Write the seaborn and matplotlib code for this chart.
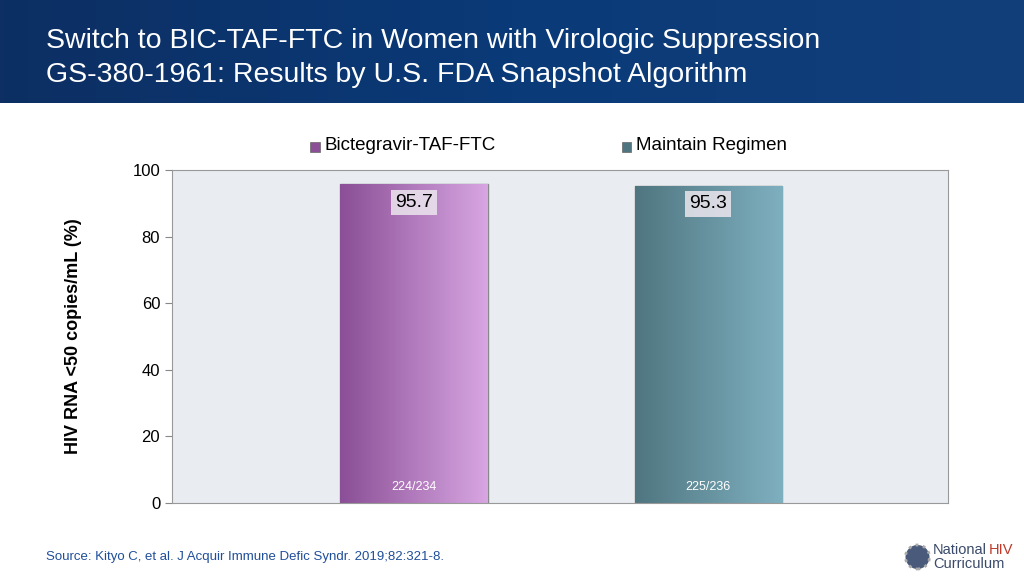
import numpy as np
import pandas as pd
import matplotlib
matplotlib.use("Agg")
import matplotlib.pyplot as plt
import seaborn as sns
from matplotlib.colors import LinearSegmentedColormap
from matplotlib.patches import Ellipse

# --- Data ---
groups = ["Bictegravir-TAF-FTC", "Maintain Regimen"]
values = [95.7, 95.3]
counts = ["224/234", "225/236"]
yticks = [0, 20, 40, 60, 80, 100]

colors_dark = ["#8a4f96", "#4f7680"]
colors_light = ["#d8a6e2", "#7fb0c0"]

fig = plt.figure(figsize=(10.24, 5.76), dpi=100)
fig.patch.set_facecolor("white")

# header band
hdr = fig.add_axes([0, 1 - 103 / 576, 1, 103 / 576])
grad = np.linspace(0, 1, 256).reshape(1, -1)
hdr.imshow(grad, aspect="auto", extent=[0, 1, 0, 1],
           cmap=LinearSegmentedColormap.from_list("h", ["#0d2f63", "#0a3a78", "#123f7a"]))
hdr.axis("off")
hdr.text(0.045, 0.6, "Switch to BIC-TAF-FTC in Women with Virologic Suppression",
         color="white", fontsize=20.5, va="center", transform=hdr.transAxes, family="Liberation Sans")
hdr.text(0.045, 0.27, "GS-380-1961: Results by U.S. FDA Snapshot Algorithm",
         color="white", fontsize=20.5, va="center", transform=hdr.transAxes, family="Liberation Sans")

ax = fig.add_axes([172 / 1024, 73 / 576, 776 / 1024, 333 / 576])
df = pd.DataFrame({"group": groups, "value": values})
sns.barplot(data=df, x="group", y="value", hue="group", palette=colors_dark,
            width=0.5, ax=ax, legend=False, edgecolor="#888888", linewidth=1)
ax.set_facecolor("#e9ecf0")
ax.set_xlim(-0.823, 1.816)
ax.set_ylim(0, 100)
ax.set_yticks(yticks)
ax.set_yticklabels([str(t) for t in yticks], fontsize=12, family="Liberation Sans")
ax.tick_params(axis="y", length=5, color="#888888")
ax.set_xticks([])
ax.set_xlabel("")
ax.set_ylabel("HIV RNA <50 copies/mL (%)", fontsize=13, fontweight="bold",
              family="Liberation Sans", labelpad=36)
for s in ax.spines.values():
    s.set_color("#999999")

# gradient fills clipped to bars
for i, p in enumerate(ax.patches):
    cmap = LinearSegmentedColormap.from_list("b%d" % i, [colors_dark[i], colors_light[i]])
    x0, w, h = p.get_x(), p.get_width(), p.get_height()
    im = ax.imshow(grad, aspect="auto", extent=[x0, x0 + w, 0, h], cmap=cmap, zorder=p.get_zorder() + 0.1)
    im.set_clip_path(p)
    ax.text(x0 + w / 2, h - 5.5, f"{values[i]}", ha="center", va="center", fontsize=14,
            family="Liberation Sans", zorder=5,
            bbox=dict(facecolor="#ece6ee", edgecolor="none", pad=3, alpha=0.85))
    ax.text(x0 + w / 2, 4.8, counts[i], ha="center", va="center", fontsize=9,
            color="white", family="Liberation Sans", zorder=5)

# legend
for i, (g, xpos) in enumerate(zip(groups, [0.303, 0.607])):
    fig.patches.append(plt.Rectangle((xpos, 1 - 152 / 576), 0.0095, 0.017,
                                     transform=fig.transFigure, facecolor=colors_dark[i],
                                     edgecolor="#666666", linewidth=0.5))
    fig.text(xpos + 0.014, 1 - 146 / 576, g, fontsize=13.5, va="center", family="Liberation Sans")

fig.text(0.045, 1 - 557 / 576, "Source: Kityo C, et al. J Acquir Immune Defic Syndr. 2019;82:321-8.",
         fontsize=9.5, color="#1f4e9a", va="center", family="Liberation Sans")
fig.text(0.911, 1 - 550 / 576, "National", fontsize=10.5, color="#3a4a6a", va="center", family="Liberation Sans")
fig.text(0.966, 1 - 550 / 576, "HIV", fontsize=10.5, color="#c0392b", va="center", family="Liberation Sans")
fig.text(0.911, 1 - 564 / 576, "Curriculum", fontsize=10.5, color="#3a4a6a", va="center", family="Liberation Sans")
fig.patches.append(Ellipse((0.896, 1 - 557 / 576), 24 / 1024, 24 / 576, transform=fig.transFigure,
                           facecolor="#4a5a7a", edgecolor="#aaaaaa", linestyle=":", linewidth=2))

fig.savefig("out.png", dpi=100)
